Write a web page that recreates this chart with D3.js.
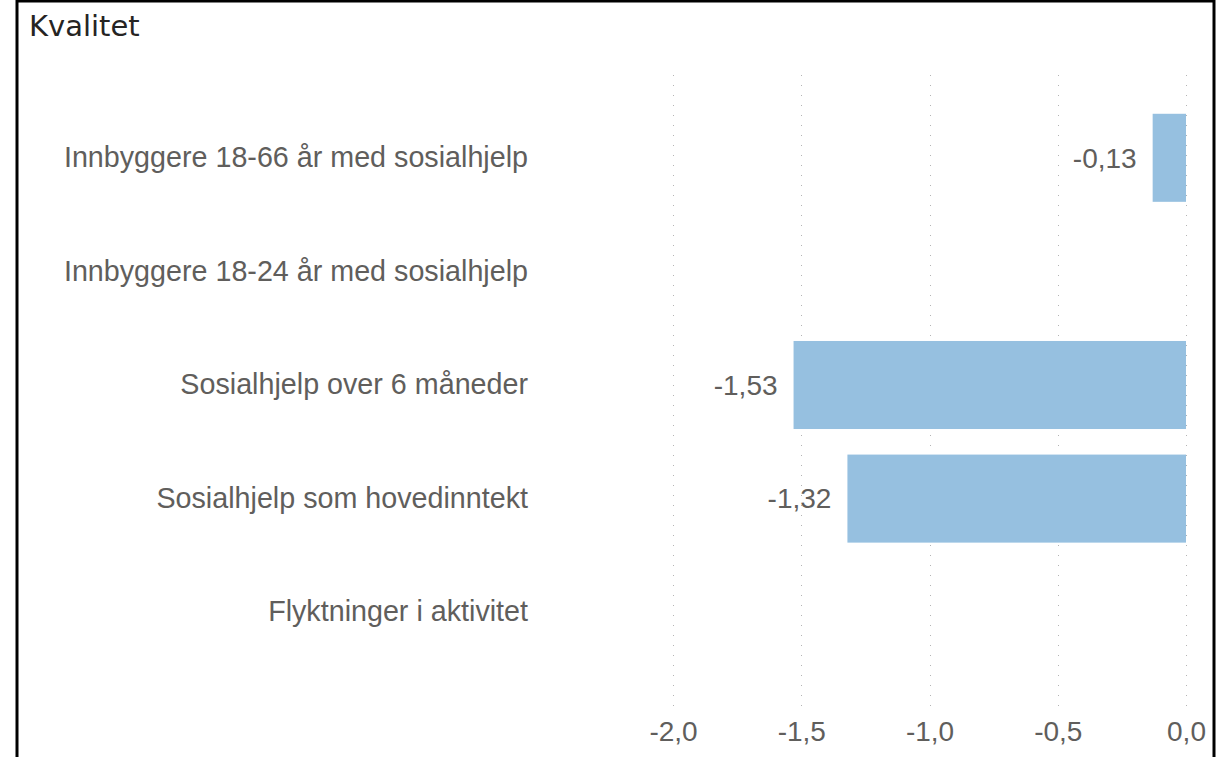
<!DOCTYPE html>
<html>
<head>
<meta charset="utf-8">
<script src="https://cdn.jsdelivr.net/npm/d3@7"></script>
<style>
  html, body { margin: 0; padding: 0; background: #fff; }
  svg { display: block; }
</style>
</head>
<body>
<div id="chart"></div>
<script>
(function () {
  const categories = [
    "Innbyggere 18-66 år med sosialhjelp",
    "Innbyggere 18-24 år med sosialhjelp",
    "Sosialhjelp over 6 måneder",
    "Sosialhjelp som hovedinntekt",
    "Flyktninger i aktivitet"
  ];
  const values = [-0.13, null, -1.53, -1.32, null];
  const xTicks = [-2.0, -1.5, -1.0, -0.5, 0.0];

  const width = 1226;
  const height = 757;
  const labelFont = "Arial, 'Liberation Sans', sans-serif";
  const labelColor = "#605e5c";

  const svg = d3.select("#chart")
    .append("svg")
    .attr("width", width)
    .attr("height", height);

  // visual frame
  svg.append("path")
    .attr("d", `M17,${height} V1 H1214 V${height}`)
    .attr("fill", "none")
    .attr("stroke", "#000")
    .attr("stroke-width", 3);

  svg.append("text")
    .attr("x", 29)
    .attr("y", 36)
    .attr("font-family", "'DejaVu Sans', sans-serif")
    .attr("font-size", 29)
    .attr("fill", "#252423")
    .text("Kvalitet");

  const x = d3.scaleLinear().domain([-2, 0]).range([673, 1186]);
  const y = d3.scaleBand().domain(categories).range([101, 669]).paddingInner(0.225).paddingOuter(0.1125);

  const comma = (v, digits) => v.toFixed(digits).replace(".", ",");

  // dotted gridlines
  svg.append("g")
    .selectAll("line")
    .data(xTicks)
    .join("line")
    .attr("x1", (d) => Math.round(x(d)) + 0.5)
    .attr("x2", (d) => Math.round(x(d)) + 0.5)
    .attr("y1", 75)
    .attr("y2", 712)
    .attr("stroke", "#b4b4b4")
    .attr("stroke-width", 1)
    .attr("stroke-dasharray", "1,9");

  // x axis labels
  const xAxis = d3.axisBottom(x)
    .tickValues(xTicks)
    .tickSize(0)
    .tickPadding(0)
    .tickFormat((d) => comma(d, 1));

  const gx = svg.append("g")
    .attr("transform", "translate(0,741)")
    .call(xAxis);
  gx.select(".domain").remove();
  gx.selectAll("text")
    .attr("dy", 0)
    .attr("font-family", labelFont)
    .attr("font-size", 28)
    .attr("fill", labelColor);

  // y axis labels
  const yAxis = d3.axisLeft(y).tickSize(0).tickPadding(0);
  const gy = svg.append("g")
    .attr("transform", "translate(528,0)")
    .call(yAxis);
  gy.select(".domain").remove();
  gy.selectAll("text")
    .attr("font-family", labelFont)
    .attr("font-size", 28.7)
    .attr("fill", labelColor);

  const data = categories.map((c, i) => ({ category: c, value: values[i] }))
    .filter((d) => d.value !== null);

  svg.append("g")
    .selectAll("rect")
    .data(data)
    .join("rect")
    .attr("x", (d) => x(d.value))
    .attr("y", (d) => y(d.category))
    .attr("width", (d) => x(0) - x(d.value))
    .attr("height", y.bandwidth())
    .attr("fill", "#96c0e0");

  svg.append("g")
    .selectAll("text")
    .data(data)
    .join("text")
    .attr("x", (d) => x(d.value) - 16)
    .attr("y", (d) => y(d.category) + y.bandwidth() / 2)
    .attr("dy", "0.35em")
    .attr("text-anchor", "end")
    .attr("font-family", labelFont)
    .attr("font-size", 28)
    .attr("fill", labelColor)
    .text((d) => comma(d.value, 2));
}());
</script>
</body>
</html>
